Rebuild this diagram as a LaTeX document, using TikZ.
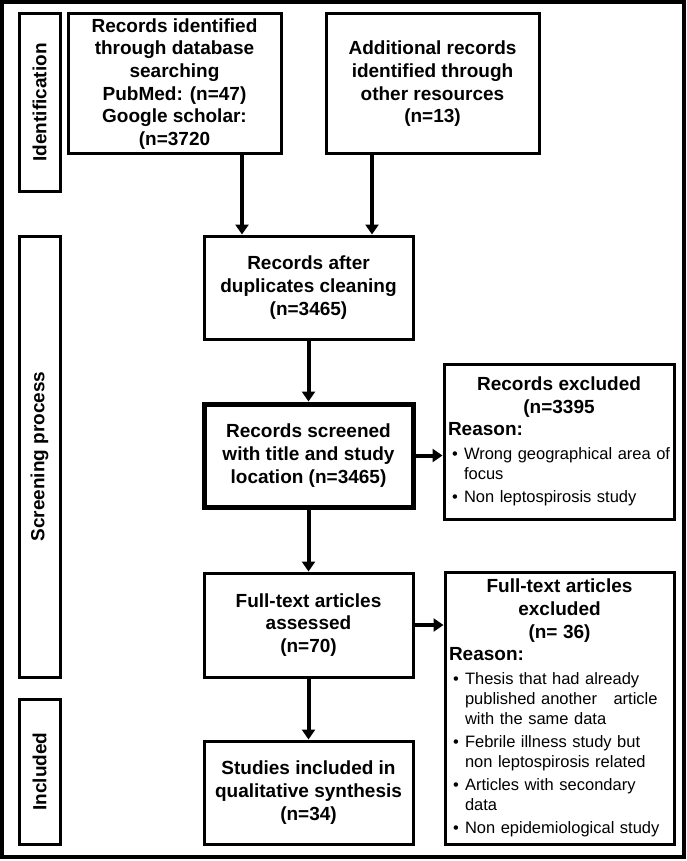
\documentclass[tikz,border=0pt]{standalone}
\usepackage{fontspec}
\setmainfont{Liberation Sans}
\usetikzlibrary{positioning,arrows.meta}

\newcommand{\bigbold}{\fontsize{19}{22.7}\selectfont\bfseries}
\newcommand{\reasonitem}[1]{\par\vspace{3pt}\noindent\hangindent=16pt\hangafter=1\makebox[16pt][l]{\hspace{4pt}•}#1\par}

\tikzset{
  stagebox/.style={draw=black,line width=3pt,rotate=90,minimum width=#1,minimum height=41pt,inner sep=0pt,font=\bigbold},
  flowbox/.style={draw=black,line width=3pt,align=center,minimum width=209pt,minimum height=103pt,inner sep=2pt,font=\bigbold},
  srcbox/.style={flowbox,minimum width=213pt,minimum height=140pt},
  exclbox/.style={draw=black,line width=3pt,align=left,minimum width=230pt,text width=222pt,inner sep=4pt,font=\fontsize{16.5}{20}\selectfont},
  arr/.style={line width=4pt,-{Triangle[length=10pt,width=13pt]}}
}

\begin{document}
\begin{tikzpicture}[x=1pt,y=-1pt]
  \useasboundingbox (0,0) rectangle (687,861);
  \draw[line width=4pt] (2,2) rectangle (684,857);
  \node[stagebox=177pt] (identlbl) at (39.5,102.5) {Identification};
  \node[stagebox=441pt] (screenlbl) at (39.5,456.5) {Screening process};
  \node[stagebox=145pt] (inclbl) at (39.5,771.5) {Included};
  \node[srcbox] (dbrec) at (174.5,84) {Records identified\\through database\\searching\\PubMed: (n=47)\\Google scholar:\\(n=3720};
  \node[srcbox] (otherrec) at (432.5,84) {Additional records\\identified through\\other resources\\(n=13)};
  \node[flowbox] (dedup) at (308.5,287.5) {Records after\\duplicates cleaning\\(n=3465)};
  \node[flowbox,line width=5pt] (screened) at (308.5,455.5) {Records screened\\with title and study\\location (n=3465)};
  \node[flowbox,minimum height=104pt] (fulltext) at (308.5,625) {Full-text articles\\assessed\\(n=70)};
  \node[flowbox] (included) at (308.5,792.5) {Studies included in\\qualitative synthesis\\(n=34)};
  \node[exclbox,minimum height=155pt] (excl1) at (559,441.5) {{\centering\bigbold Records excluded\\(n=3395\par}{\bigbold Reason:\par}\vspace{1pt}%
    \reasonitem{\mbox{Wrong geographical area of}\newline focus}\reasonitem{Non leptospirosis study}};
  \node[exclbox,minimum width=229pt,text width=221pt,minimum height=272pt] (excl2) at (559.5,708) {{\centering\bigbold Full-text articles\\excluded\\(n= 36)\par}{\bigbold Reason:\par}\vspace{1pt}%
    \reasonitem{\mbox{Thesis that had already}\newline\mbox{published another\ \ \ article}\newline\mbox{with the same data}}\reasonitem{\mbox{Febrile illness study but}\newline\mbox{non leptospirosis related}}\reasonitem{\mbox{Articles with secondary}\newline data}\reasonitem{\mbox{Non epidemiological study}}};
  \coordinate (dbx) at (242,0);
  \coordinate (otherx) at (372,0);
  \path [arr] (dbrec.south -| dbx) edge (dedup.north -| dbx);
  \path [arr] (otherrec.south -| otherx) edge (dedup.north -| otherx);
  \path [arr] (dedup) edge (screened);
  \path [arr] (screened) edge (fulltext);
  \path [arr] (fulltext) edge (included);
  \path [arr] (screened.east) edge (excl1.west |- screened.east);
  \path [arr] (fulltext.east) edge (excl2.west |- fulltext.east);
\end{tikzpicture}
\end{document}
